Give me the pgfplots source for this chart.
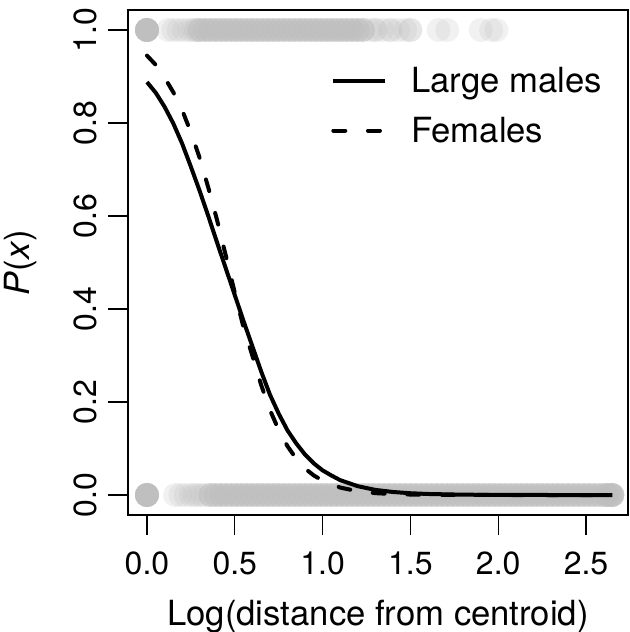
\documentclass[border=0pt]{standalone}
\usepackage{pgfplots}
\pgfplotsset{compat=1.18}
\usepackage{fontspec}
\setmainfont{TeX Gyre Heros}
\definecolor{ptgray}{RGB}{190,190,190}
\newcommand{\tickfont}{\fontsize{24}{28}\selectfont}
\newcommand{\labfont}{\fontsize{26}{30}\selectfont}
\begin{document}
\begin{tikzpicture}
\useasboundingbox (0,0) rectangle (471.75pt,474pt);
\begin{axis}[
  at={(96pt,87.75pt)}, anchor=south west,
  scale only axis, width=375pt, height=378.75pt,
  xmin=-0.108, xmax=2.739, ymin=-0.043, ymax=1.043,
  xtick={0,0.5,1,1.5,2,2.5}, ytick={0,0.2,0.4,0.6,0.8,1},
  xtick pos=bottom, ytick pos=left,
  tick align=outside, major tick length=15pt,
  tick style={line width=1pt, black},
  axis line style={line width=1pt},
  xticklabel={\tickfont\pgfmathprintnumber[fixed,fixed zerofill,precision=1,assume math mode=true]{\tick}},
  yticklabel={\tickfont\pgfmathprintnumber[fixed,fixed zerofill,precision=1,assume math mode=true]{\tick}},
  xticklabel style={anchor=north, inner sep=0pt},
  yticklabel style={rotate=90, anchor=south, inner sep=0pt},
  xticklabel shift=12.75pt,
  yticklabel shift=8.25pt,
  xlabel={\labfont Log(distance from centroid)},
  ylabel={\labfont\textit{P}(\textit{x})},
  xlabel style={at={(axis description cs:0.5,-0.1683)}, anchor=north, inner sep=0pt},
  ylabel style={at={(axis description cs:-0.182,0.5)}, anchor=south, inner sep=0pt},
  clip marker paths=true,
  legend style={at={(axis cs:1.048,0.921)}, anchor=north west, draw=none, fill=none,
    inner sep=0pt, row sep=17pt, nodes={inner sep=0pt}, font=\labfont,
    /tikz/every odd column/.append style={column sep=18pt}},
  legend cell align=left,
  legend image code/.code={\draw[#1] (0pt,0pt) -- (39pt,0pt);},
]
% observations at P=1
\addplot[only marks, mark=*, mark size=9pt, mark options={fill=ptgray, draw opacity=0, fill opacity=0.6}, forget plot] coordinates {
(0,1)(0,1)(0,1)(0,1)(0,1)
(0.30,1)(0.33,1)(0.36,1)(0.39,1)(0.42,1)(0.45,1)(0.48,1)(0.51,1)(0.54,1)(0.57,1)
(0.60,1)(0.63,1)(0.66,1)(0.69,1)(0.72,1)(0.75,1)(0.78,1)(0.81,1)(0.84,1)(0.87,1)
(0.90,1)(0.93,1)(0.96,1)(0.99,1)(1.02,1)(1.05,1)(1.08,1)(1.11,1)(1.14,1)(1.17,1)
(1.20,1)(1.23,1)};
\addplot[only marks, mark=*, mark size=9pt, mark options={fill=ptgray, draw opacity=0, fill opacity=0.22}, forget plot] coordinates {
(0.12,1)(0.15,1)(0.18,1)(0.21,1)(0.24,1)(0.26,1)(0.28,1)(0.28,1)
(1.27,1)(1.30,1)(1.30,1)(1.34,1)(1.38,1)(1.39,1)(1.43,1)(1.47,1)(1.50,1)(1.50,1)
(1.66,1)(1.71,1)(1.90,1)(1.96,1)(1.99,1)};
% observations at P=0
\addplot[only marks, mark=*, mark size=9pt, mark options={fill=ptgray, draw opacity=0, fill opacity=0.6}, forget plot] coordinates {
(0,0)(0,0)(0,0)(0,0)(0,0)
(0.36,0)(0.39,0)(0.42,0)(0.45,0)(0.48,0)(0.51,0)(0.54,0)(0.57,0)(0.60,0)(0.63,0)
(0.66,0)(0.69,0)(0.72,0)(0.75,0)(0.78,0)(0.81,0)(0.84,0)(0.87,0)(0.90,0)(0.93,0)
(0.96,0)(0.99,0)(1.02,0)(1.05,0)(1.08,0)(1.11,0)(1.14,0)(1.17,0)(1.20,0)(1.23,0)
(1.26,0)(1.29,0)(1.32,0)(1.35,0)(1.38,0)(1.41,0)(1.44,0)(1.47,0)(1.50,0)(1.53,0)
(1.56,0)(1.59,0)(1.62,0)(1.65,0)(1.68,0)(1.71,0)(1.74,0)(1.77,0)(1.80,0)(1.83,0)
(1.86,0)(1.89,0)(1.92,0)(1.95,0)(1.98,0)(2.01,0)(2.04,0)(2.07,0)(2.10,0)(2.13,0)
(2.16,0)(2.19,0)(2.22,0)(2.25,0)(2.28,0)(2.31,0)(2.34,0)(2.37,0)(2.40,0)(2.43,0)
(2.46,0)(2.49,0)(2.52,0)(2.55,0)(2.58,0)(2.61,0)(2.62,0)(2.64,0)(2.65,0)(2.65,0)};
\addplot[only marks, mark=*, mark size=9pt, mark options={fill=ptgray, draw opacity=0, fill opacity=0.22}, forget plot] coordinates {
(0.16,0)(0.19,0)(0.22,0)(0.25,0)(0.27,0)(0.29,0)(0.31,0)(0.33,0)};
% fitted curves
\addplot[black, line width=3pt, line join=round] coordinates {
(0,0.888)(0.05,0.865)(0.1,0.835)(0.15,0.799)(0.2,0.756)(0.25,0.706)(0.3,0.654)
(0.35,0.599)(0.4,0.542)(0.45,0.486)(0.5,0.430)(0.55,0.374)(0.6,0.320)(0.65,0.266)
(0.7,0.216)(0.75,0.175)(0.8,0.139)(0.85,0.111)(0.9,0.087)(0.95,0.068)(1.0,0.053)
(1.05,0.042)(1.1,0.032)(1.2,0.019)(1.3,0.011)(1.4,0.0065)(1.5,0.0038)(1.6,0.0022)
(1.8,0.0007)(2.0,0.0002)(2.3,0)(2.65,0)};
\addlegendentry{Large males}
\addplot[black, line width=3pt, line cap=round, line join=round, dash pattern=on 9pt off 17pt] coordinates {
(0,0.945)(0.05,0.925)(0.1,0.898)(0.15,0.866)(0.2,0.828)(0.25,0.780)(0.3,0.725)
(0.35,0.660)(0.4,0.590)(0.45,0.513)(0.5,0.435)(0.55,0.360)(0.6,0.300)(0.65,0.237)
(0.7,0.183)(0.75,0.140)(0.8,0.105)(0.85,0.078)(0.9,0.057)(0.95,0.042)(1.0,0.031)
(1.1,0.016)(1.2,0.008)(1.3,0.004)(1.4,0.002)(1.5,0.001)(1.7,0.0002)(2.0,0)(2.65,0)};
\addlegendentry{Females}
\end{axis}
\end{tikzpicture}
\end{document}
